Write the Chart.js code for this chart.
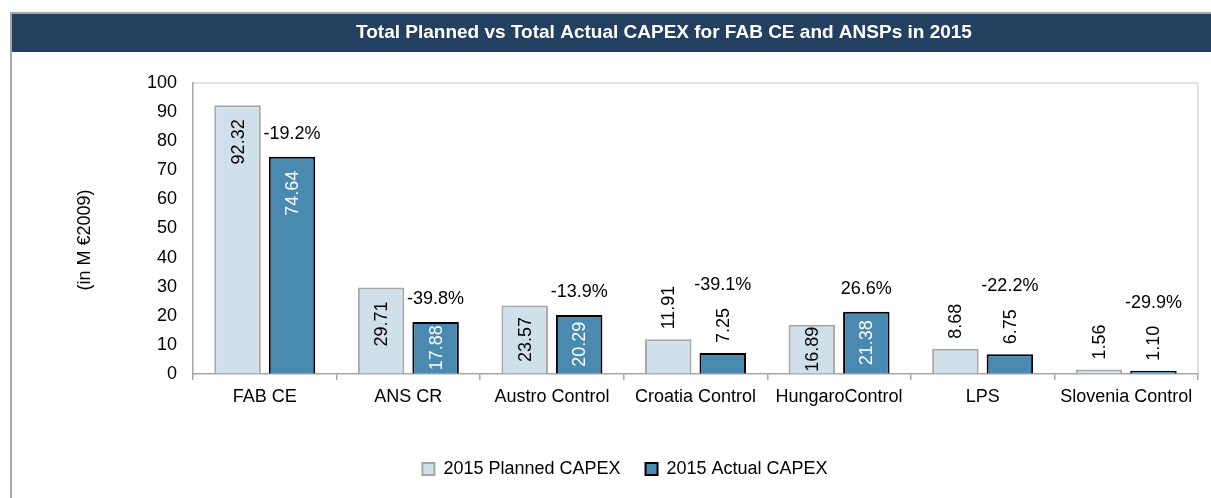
<!DOCTYPE html>
<html>
<head>
<meta charset="utf-8">
<script src="https://cdn.jsdelivr.net/npm/chart.js@4/dist/chart.umd.min.js"></script>
<style>
  html, body { margin: 0; padding: 0; background: #fff; }
  #wrap { position: relative; width: 1211px; height: 498px; }
</style>
</head>
<body>
<div id="wrap"><canvas id="c"></canvas></div>
<script>
const chartTitle = 'Total Planned vs Total Actual CAPEX for FAB CE and ANSPs in 2015';
const yAxisTitle = '(in M €2009)';
const categories = ['FAB CE', 'ANS CR', 'Austro Control', 'Croatia Control', 'HungaroControl', 'LPS', 'Slovenia Control'];
const plannedCapex = [92.32, 29.71, 23.57, 11.91, 16.89, 8.68, 1.56];
const actualCapex = [74.64, 17.88, 20.29, 7.25, 21.38, 6.75, 1.10];
const changeLabels = ['-19.2%', '-39.8%', '-13.9%', '-39.1%', '26.6%', '-22.2%', '-29.9%'];
const seriesNames = ['2015 Planned CAPEX', '2015 Actual CAPEX'];

const FONT = '"Liberation Sans", Arial, Helvetica, sans-serif';
Chart.defaults.font.family = FONT;
Chart.defaults.font.size = 18;
Chart.defaults.color = '#000';

const decor = {
  id: 'decor',
  beforeDraw(chart) {
    const ctx = chart.ctx;
    const W = chart.width;
    ctx.save();
    ctx.fillStyle = '#fff';
    ctx.fillRect(0, 0, W, chart.height);
    // outer frame
    ctx.strokeStyle = '#A6A6A6';
    ctx.lineWidth = 2;
    ctx.beginPath();
    ctx.moveTo(11, chart.height);
    ctx.lineTo(11, 13);
    ctx.lineTo(W, 13);
    ctx.stroke();
    // title bar
    ctx.fillStyle = '#244061';
    ctx.fillRect(12, 14, W - 12, 38);
    ctx.fillStyle = '#fff';
    ctx.font = 'bold 19px ' + FONT;
    ctx.textAlign = 'center';
    ctx.textBaseline = 'middle';
    ctx.fillText(chartTitle, 664, 33);
    // plot border (top/right)
    const a = chart.chartArea;
    ctx.strokeStyle = '#D9D9D9';
    ctx.lineWidth = 1.5;
    ctx.beginPath();
    ctx.moveTo(a.left, a.top);
    ctx.lineTo(a.right, a.top);
    ctx.lineTo(a.right, a.bottom);
    ctx.stroke();
    // y axis title
    ctx.fillStyle = '#000';
    ctx.font = '18px ' + FONT;
    ctx.translate(85, 240);
    ctx.rotate(-Math.PI / 2);
    ctx.fillText(yAxisTitle, 0, 0);
    ctx.restore();
  },
  afterDatasetsDraw(chart) {
    const ctx = chart.ctx;
    ctx.save();
    ctx.font = '18px ' + FONT;
    ctx.textAlign = 'center';
    ctx.textBaseline = 'middle';
    const stackTops = [];
    chart.data.datasets.forEach((ds, i) => {
      const meta = chart.getDatasetMeta(i);
      meta.data.forEach((el, j) => {
        const text = ds.data[j].toFixed(2);
        const len = ctx.measureText(text).width;
        const top = el.y, base = el.base, h = base - top;
        let center, color, stackTop;
        if (h >= len + 2) {
          const start = top + Math.max(1, Math.min(14, (h - len) / 2));
          center = start + len / 2;
          color = i === 0 ? '#000' : '#fff';
          stackTop = top;
        } else {
          center = top - 10 - len / 2;
          color = '#000';
          stackTop = top - 10 - len;
        }
        ctx.save();
        ctx.fillStyle = color;
        ctx.translate(el.x, center);
        ctx.rotate(-Math.PI / 2);
        ctx.fillText(text, 0, 1);
        ctx.restore();
        if (i === 1) stackTops[j] = { x: el.x, y: stackTop };
      });
    });
    ctx.fillStyle = '#000';
    stackTops.forEach((p, j) => {
      ctx.fillText(changeLabels[j], p.x, p.y - 23);
    });
    ctx.restore();
  }
};

new Chart(document.getElementById('c'), {
  type: 'bar',
  data: {
    labels: categories,
    datasets: [
      {
        label: seriesNames[0],
        data: plannedCapex,
        backgroundColor: '#D0E0EA',
        borderColor: '#A6A6A6',
        borderWidth: 2,
        categoryPercentage: 0.759,
        barPercentage: 0.853
      },
      {
        label: seriesNames[1],
        data: actualCapex,
        backgroundColor: '#4A8AB0',
        borderColor: '#000',
        borderWidth: 2,
        categoryPercentage: 0.759,
        barPercentage: 0.853
      }
    ]
  },
  options: {
    responsive: true,
    maintainAspectRatio: false,
    animation: false,
    layout: { padding: { left: 52, right: 13, top: 83, bottom: 10 } },
    plugins: {
      title: { display: false },
      tooltip: { enabled: false },
      legend: {
        position: 'bottom',
        labels: { boxWidth: 12, boxHeight: 12, padding: 25, font: { size: 18 }, color: '#000' }
      }
    },
    scales: {
      x: {
        grid: { display: true, drawOnChartArea: false, drawTicks: true, tickLength: 6, color: '#A6A6A6', lineWidth: 1.5, offset: true },
        border: { display: true, color: '#A6A6A6', width: 1.5 },
        ticks: { padding: 6, font: { size: 18 }, color: '#000', maxRotation: 0, autoSkip: false },
        afterFit(scale) { scale.height = 61; }
      },
      y: {
        min: 0,
        max: 100,
        grid: { display: true, drawOnChartArea: false, drawTicks: false },
        border: { display: true, color: '#A6A6A6', width: 1.5 },
        ticks: { stepSize: 10, padding: 16, font: { size: 18 }, color: '#000' },
        afterFit(scale) { scale.width = 141; }
      }
    }
  },
  plugins: [decor]
});
</script>
</body>
</html>
